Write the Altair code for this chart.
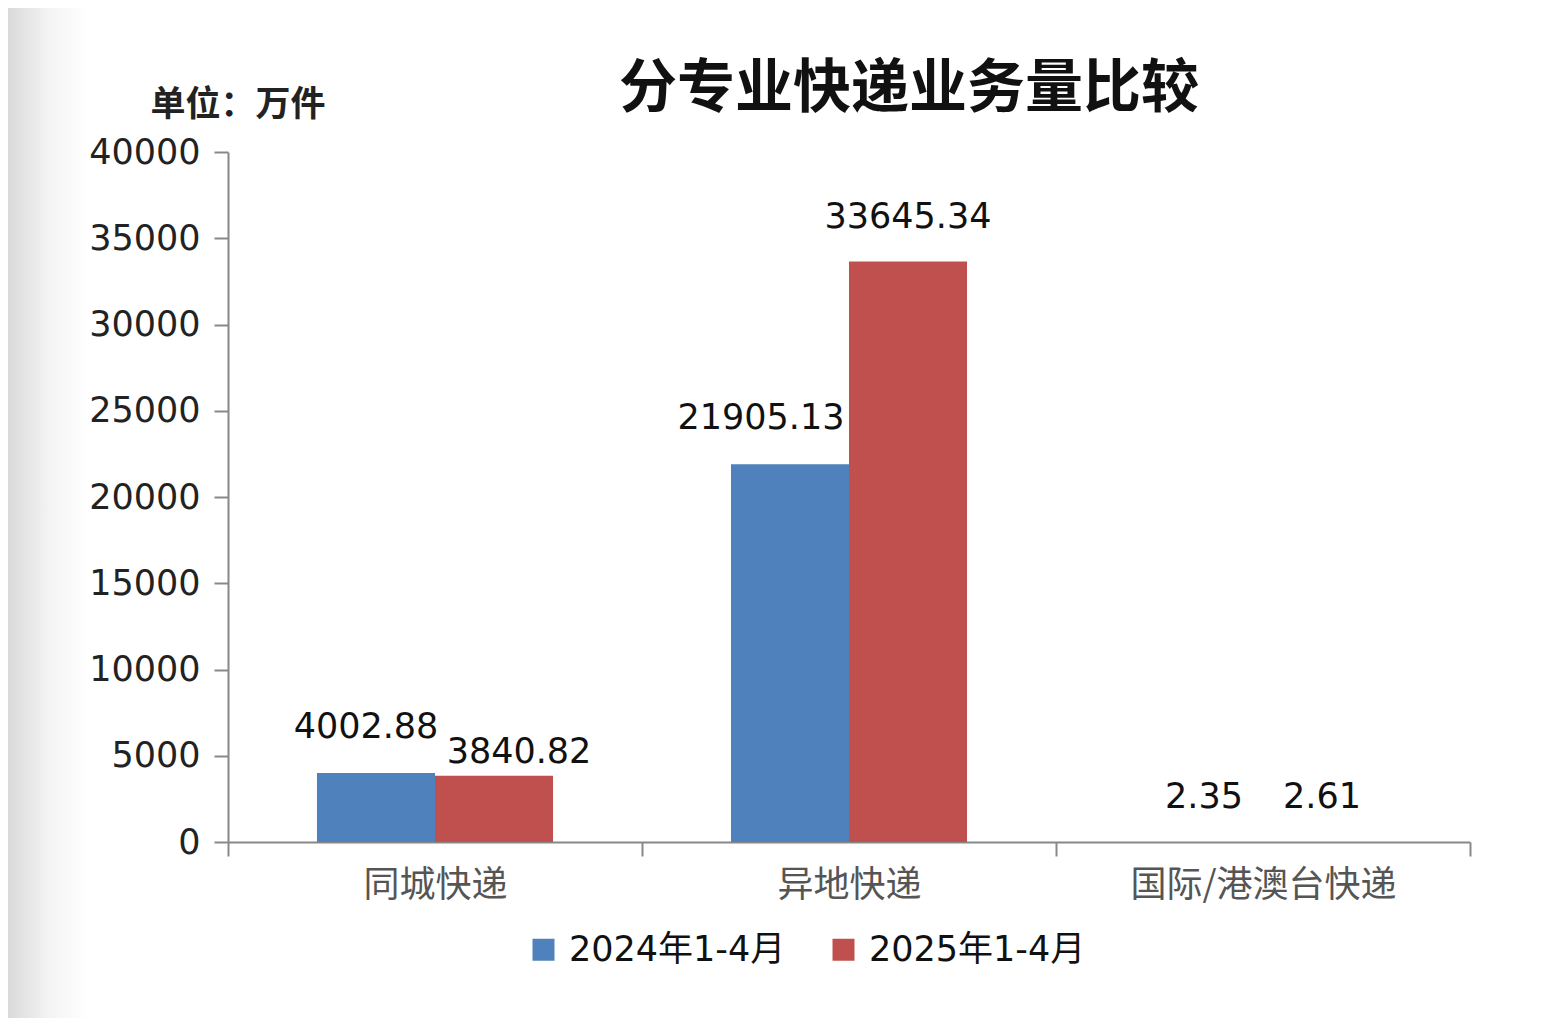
import altair as alt
import pandas as pd

categories = ["同城快递", "异地快递", "国际/港澳台快递"]
series = ["2024年1-4月", "2025年1-4月"]
values_2024 = [4002.88, 21905.13, 2.35]
values_2025 = [3840.82, 33645.34, 2.61]
labels_2024 = ["4002.88", "21905.13", "2.35"]
labels_2025 = ["3840.82", "33645.34", "2.61"]

rows = []
for i, c in enumerate(categories):
    rows.append({"cat": c, "series": series[0], "value": values_2024[i], "label": labels_2024[i]})
    rows.append({"cat": c, "series": series[1], "value": values_2025[i], "label": labels_2025[i]})
df = pd.DataFrame(rows)

NUM_FONT = "DejaVu Sans, Noto Sans CJK SC"
CJK_FONT = "Noto Sans CJK SC"

x_enc = alt.X("cat:N", sort=categories,
              scale=alt.Scale(paddingInner=0, paddingOuter=0),
              axis=alt.Axis(title=None, labelAngle=0, tickBand="extent", labelLimit=0,
                            labelFont=CJK_FONT, labelFontSize=36, labelColor="#555555",
                            labelPadding=12, tickSize=14, tickColor="#888888", tickWidth=2,
                            domainColor="#888888", domainWidth=2, grid=False))
xoff = alt.XOffset("series:N", sort=series, scale=alt.Scale(paddingOuter=0.754, paddingInner=0))
y_enc = alt.Y("value:Q", scale=alt.Scale(domain=[0, 40000], nice=False),
              axis=alt.Axis(values=list(range(0, 40001, 5000)), grid=False, format="d",
                            labelFont=NUM_FONT, labelFontSize=35, labelColor="#222222",
                            labelPadding=14, tickSize=14, tickColor="#888888", tickWidth=2,
                            domainColor="#888888", domainWidth=2,
                            title="单位：万件", titleAngle=0, titleFont=CJK_FONT,
                            titleFontSize=35, titleFontWeight="bold", titleColor="#222222",
                            titleAlign="left", titleBaseline="middle",
                            titleX=-78, titleY=-48))

color = alt.Color("series:N", sort=series,
                  scale=alt.Scale(domain=series, range=["#4F81BD", "#C0504D"]),
                  legend=alt.Legend(title=None, orient="none", direction="horizontal",
                                    legendX=298, legendY=780, symbolType="square",
                                    symbolSize=484, symbolStrokeWidth=0, symbolOpacity=1,
                                    labelFont=NUM_FONT, labelFontSize=35, labelColor="#111111",
                                    labelLimit=0,
                                    labelOffset=8, columnPadding=40, padding=0))

base = alt.Chart(df)

# soft grey shading along the left edge of the page
shade = alt.Chart(pd.DataFrame({"k": [0]})).mark_rect(
    fill=alt.Gradient(gradient="linear", x1=0, x2=1, y1=0, y2=0,
                      stops=[alt.GradientStop(color="#d9d9d9", offset=0),
                             alt.GradientStop(color="#f3f3f3", offset=0.5),
                             alt.GradientStop(color="#ffffff", offset=1)])
).encode(x=alt.value(-220), x2=alt.value(-140), y=alt.value(-144), y2=alt.value(870))

bars = base.mark_bar().encode(x=x_enc, xOffset=xoff, y=y_enc, color=color)

def text_layer(dx, dy, flt):
    return base.transform_filter(flt).mark_text(
        font=NUM_FONT, fontSize=35, color="#111111", baseline="middle", align="center",
        dx=dx, dy=dy
    ).encode(x=alt.X("cat:N", sort=categories), xOffset=alt.XOffset("series:N", sort=series),
             y="value:Q", text="label:N")

t_default = text_layer(0, -45, "indexof(['4002.88','3840.82','21905.13'], datum.label) < 0")
t1 = text_layer(-10, -46, "datum.label == '4002.88'")
t2 = text_layer(25, -24, "datum.label == '3840.82'")
t3 = text_layer(-29, -46, "datum.label == '21905.13'")

chart = alt.layer(shade, bars, t_default, t1, t2, t3).properties(
    width=1242, height=690,
    padding={"left": 220, "top": 144, "right": 60, "bottom": 180},
    autosize=alt.AutoSizeParams(type="none"),
    title=alt.TitleParams("分专业快递业务量比较", font=CJK_FONT, fontSize=58,
                          fontWeight="bold", color="#111111", anchor="middle",
                          dx=60, dy=115, offset=4),
).configure(background="white").configure_view(strokeWidth=0, stroke="transparent")

chart.save("out.html", embed_options={"renderer": "svg", "actions": False})
